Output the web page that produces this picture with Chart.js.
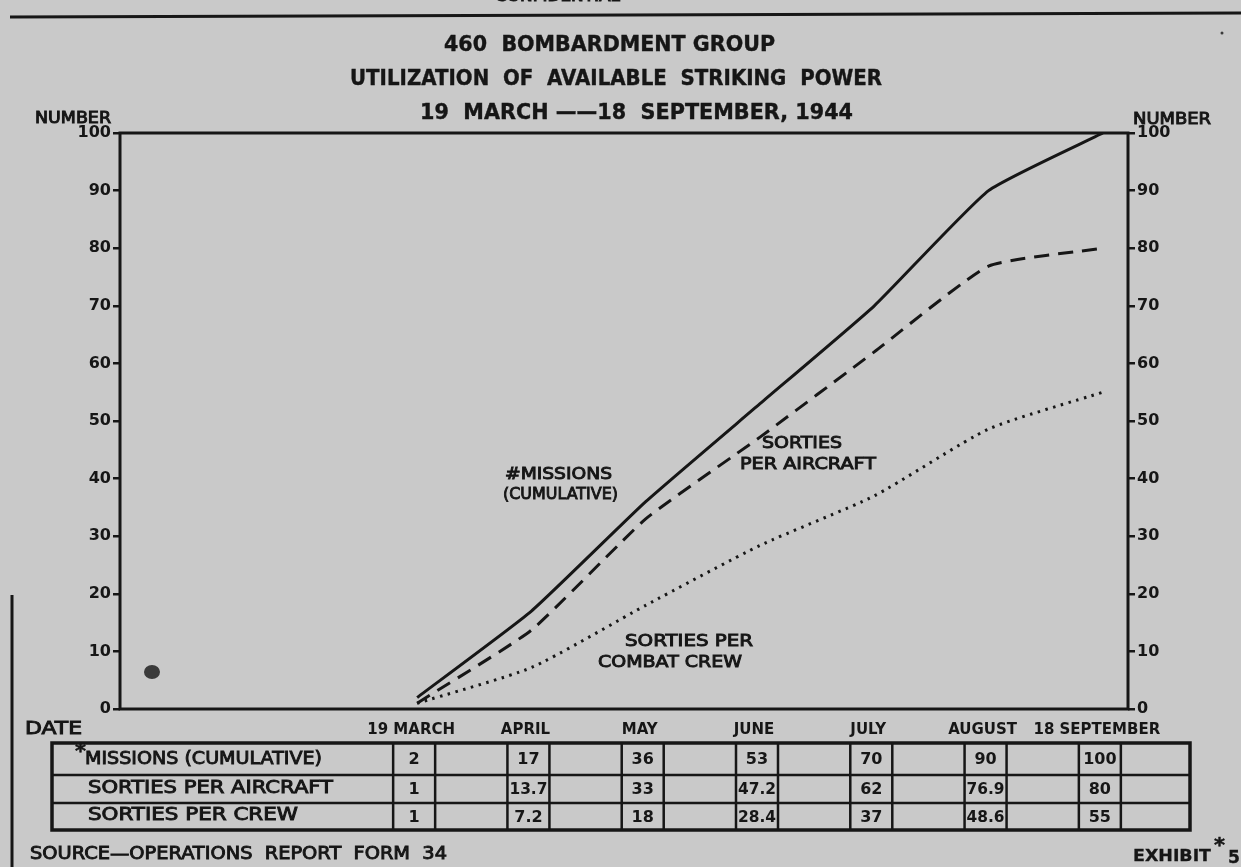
<!DOCTYPE html>
<html>
<head>
<meta charset="utf-8">
<script src="https://cdn.jsdelivr.net/npm/chart.js@4/dist/chart.umd.min.js"></script>
<style>
  html, body { margin: 0; padding: 0; background: #c9c9c9; }
  #wrap { width: 1241px; height: 867px; }
</style>
</head>
<body>
<div id="wrap"><canvas id="chart" width="1241" height="867"></canvas></div>
<script>
const monthLabels = ['19 MARCH', 'APRIL', 'MAY', 'JUNE', 'JULY', 'AUGUST', '18 SEPTEMBER'];
const missions = [2, 17, 36, 53, 70, 90, 100];
const sortiesAircraft = [1, 13.7, 33, 47.2, 62, 76.9, 80];
const sortiesCrew = [1, 7.2, 18, 28.4, 37, 48.6, 55];
const rowLabels = ['MISSIONS (CUMULATIVE)', 'SORTIES PER AIRCRAFT', 'SORTIES PER CREW'];
const yTicks = [0, 10, 20, 30, 40, 50, 60, 70, 80, 90, 100];

const INK = '#161616';
const FONT = '"DejaVu Sans", "Liberation Sans", sans-serif';

// draw text stretched to a given width (hand lettering is wider than the font)
function fitText(ctx, text, x, y, w, size, weight, stroke) {
    ctx.save();
    ctx.font = `${weight || 'normal'} ${size}px ${FONT}`;
    ctx.textAlign = 'left';
    ctx.textBaseline = 'middle';
    const m = ctx.measureText(text).width;
    ctx.translate(x, y);
    ctx.scale(w / m, 1);
    ctx.fillStyle = INK;
    ctx.fillText(text, 0, 0);
    ctx.strokeStyle = INK;
    ctx.lineWidth = stroke === undefined ? 0.9 : stroke;
    if (ctx.lineWidth > 0) ctx.strokeText(text, 0, 0);
    ctx.restore();
}

const toPoints = arr => arr.map((v, i) => ({ x: i, y: v }));

const sheetPlugin = {
    id: 'sheet',
    beforeDraw(chart) {
        const ctx = chart.ctx;
        ctx.save();
        ctx.fillStyle = '#c9c9c9';
        ctx.fillRect(0, 0, chart.width, chart.height);
        // paper frame
        ctx.strokeStyle = INK;
        ctx.lineWidth = 3;
        ctx.beginPath();
        ctx.moveTo(10, 17);
        ctx.lineTo(1241, 13);
        ctx.stroke();
        ctx.lineWidth = 3;
        ctx.beginPath();
        ctx.moveTo(12, 595);
        ctx.lineTo(12, 867);
        ctx.stroke();
        // smudges
        ctx.fillStyle = '#3a3a3a';
        ctx.beginPath();
        ctx.ellipse(152, 672, 8, 7, 0, 0, Math.PI * 2);
        ctx.fill();
        ctx.beginPath();
        ctx.arc(1222, 33, 1.5, 0, Math.PI * 2);
        ctx.fill();
        ctx.restore();

        // header
        fitText(ctx, 'CONFIDENTIAL', 495, -3, 125, 14);
        fitText(ctx, '460  BOMBARDMENT GROUP', 444, 46, 331, 21, 'bold', 0.4);
        fitText(ctx, 'UTILIZATION  OF  AVAILABLE  STRIKING  POWER', 350, 80, 532, 21, 'bold', 0.4);
        fitText(ctx, '19  MARCH \u2014\u201418  SEPTEMBER, 1944', 420, 114, 433, 21, 'bold', 0.4);
        fitText(ctx, 'NUMBER', 35, 119, 76, 15);
        fitText(ctx, 'NUMBER', 1133, 120, 78, 15);
    },
    afterDraw(chart) {
        const ctx = chart.ctx;
        const a = chart.chartArea;
        const xs = chart.scales.x;
        ctx.save();
        // plot box
        ctx.strokeStyle = INK;
        ctx.lineWidth = 3;
        ctx.strokeRect(a.left, a.top, a.right - a.left, a.bottom - a.top);

        // in-plot labels
        fitText(ctx, '#MISSIONS', 505, 475, 107, 16);
        fitText(ctx, '(CUMULATIVE)', 503, 495, 115, 16);
        fitText(ctx, 'SORTIES', 762, 444, 80, 16);
        fitText(ctx, 'PER AIRCRAFT', 740, 465, 136, 16);
        fitText(ctx, 'SORTIES PER', 625, 642, 128, 16);
        fitText(ctx, 'COMBAT CREW', 598, 663, 144, 16);

        fitText(ctx, 'DATE', 25, 730, 57, 17);

        // table
        const rows = [743, 775, 803, 830];
        const tLeft = 52, tRight = 1190;
        ctx.strokeStyle = INK;
        ctx.lineWidth = 3.5;
        ctx.strokeRect(tLeft, rows[0], tRight - tLeft, rows[3] - rows[0]);
        ctx.lineWidth = 2.5;
        ctx.beginPath();
        ctx.moveTo(tLeft, rows[1]); ctx.lineTo(tRight, rows[1]);
        ctx.moveTo(tLeft, rows[2]); ctx.lineTo(tRight, rows[2]);
        const series = [missions, sortiesAircraft, sortiesCrew];
        monthLabels.forEach((_, i) => {
            const px = xs.getPixelForValue(i) - 3;
            ctx.moveTo(px - 21, rows[0]); ctx.lineTo(px - 21, rows[3]);
            ctx.moveTo(px + 21, rows[0]); ctx.lineTo(px + 21, rows[3]);
        });
        ctx.stroke();

        ctx.font = `bold 16px ${FONT}`;
        ctx.fillStyle = INK;
        ctx.textAlign = 'center';
        ctx.textBaseline = 'middle';
        series.forEach((arr, r) => {
            const cy = (rows[r] + rows[r + 1]) / 2 + 1;
            arr.forEach((v, i) => {
                const s = String(v);
                const cx = xs.getPixelForValue(i) - 3;
                const w = ctx.measureText(s).width;
                ctx.save();
                ctx.translate(cx, cy);
                if (w > 38) ctx.scale(38 / w, 1);
                ctx.fillText(s, 0, 0);
                ctx.restore();
            });
        });
        fitText(ctx, '*', 75, 752, 11, 20, 'bold', 0.5);
        fitText(ctx, rowLabels[0], 85, 760, 237, 17);
        fitText(ctx, rowLabels[1], 88, 789, 245, 17);
        fitText(ctx, rowLabels[2], 88, 816, 210, 17);

        // footer
        fitText(ctx, 'SOURCE\u2014OPERATIONS  REPORT  FORM  34', 30, 855, 417, 17);
        fitText(ctx, 'EXHIBIT', 1133, 857, 78, 16, 'bold', 0.3);
        fitText(ctx, '*', 1214, 846, 11, 20, 'bold', 0.5);
        fitText(ctx, '5', 1228, 859, 12, 17, 'bold', 0.3);
        ctx.restore();
    }
};

const yAxis = (pos, width) => ({
    type: 'linear',
    position: pos,
    min: 0,
    max: 100,
    afterBuildTicks: s => { s.ticks = yTicks.map(v => ({ value: v })); },
    afterFit: s => { s.width = width; },
    grid: { drawOnChartArea: false, drawTicks: true, tickLength: 7, color: INK, lineWidth: 2.5 },
    border: { display: false },
    ticks: {
        color: INK,
        padding: 2,
        font: { family: FONT, size: 16, weight: 'bold' }
    }
});

new Chart(document.getElementById('chart'), {
    type: 'line',
    data: {
        datasets: [
            {
                label: 'MISSIONS (CUMULATIVE)',
                data: toPoints(missions),
                borderColor: INK,
                borderWidth: 3,
                tension: 0.15,
                pointRadius: 0,
                yAxisID: 'y'
            },
            {
                label: 'SORTIES PER AIRCRAFT',
                data: toPoints(sortiesAircraft),
                borderColor: INK,
                borderWidth: 3,
                borderDash: [15, 9],
                tension: 0.15,
                pointRadius: 0,
                yAxisID: 'y'
            },
            {
                label: 'SORTIES PER CREW',
                data: toPoints(sortiesCrew),
                borderColor: INK,
                borderWidth: 3,
                borderDash: [2.5, 5.5],
                tension: 0.2,
                pointRadius: 0,
                yAxisID: 'y'
            }
        ]
    },
    options: {
        responsive: false,
        animation: false,
        devicePixelRatio: 1,
        layout: { padding: { top: 133, left: 0, right: 0, bottom: 0 } },
        plugins: {
            legend: { display: false },
            tooltip: { enabled: false },
            title: { display: false }
        },
        scales: {
            x: {
                type: 'linear',
                min: -2.6,
                max: 6.22,
                afterBuildTicks: s => { s.ticks = monthLabels.map((_, i) => ({ value: i })); },
                afterFit: s => { s.height = 158; },
                grid: { display: false, drawTicks: false },
                border: { display: false },
                ticks: {
                    color: INK,
                    autoSkip: false,
                    maxRotation: 0,
                    padding: 12,
                    labelOffset: -6,
                    font: { family: FONT, size: 15, weight: 'bold' },
                    callback: v => monthLabels[v]
                }
            },
            y: yAxis('left', 120),
            y2: yAxis('right', 113)
        }
    },
    plugins: [sheetPlugin]
});
</script>
</body>
</html>
